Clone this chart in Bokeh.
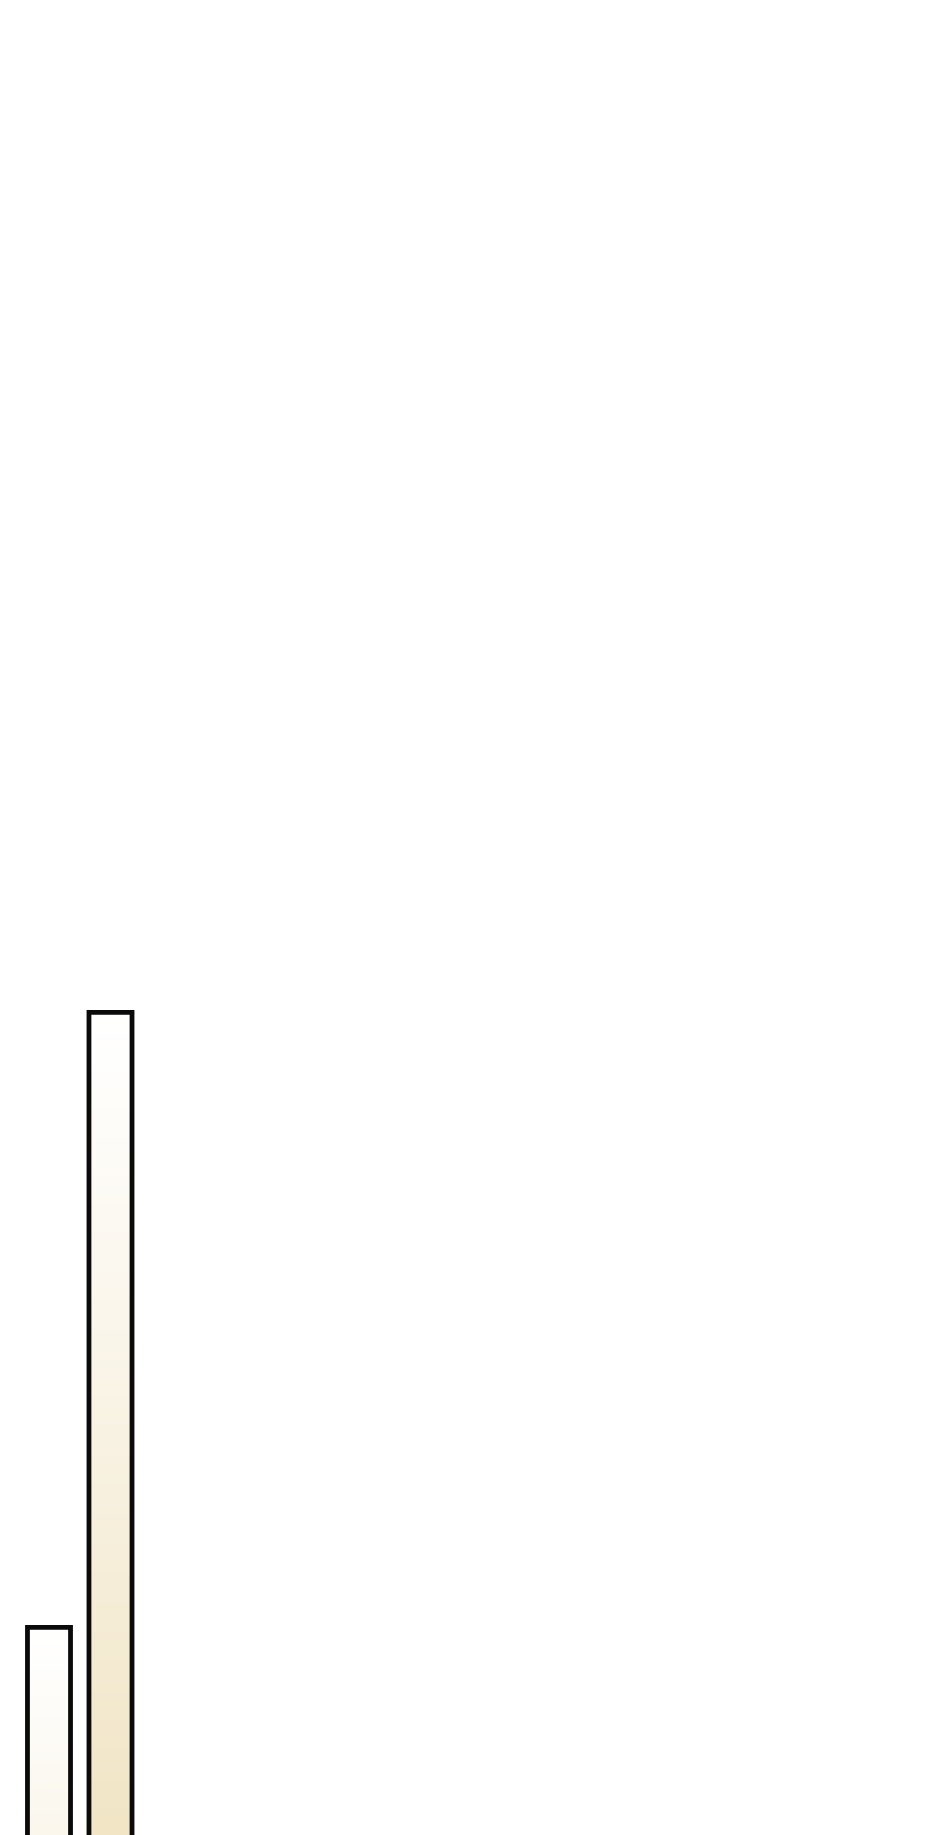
import numpy as np
from bokeh.plotting import figure
from bokeh.models import Range1d, ColumnDataSource
from bokeh.embed import file_html
from bokeh.resources import INLINE

# Data
categories = ["A", "B"]
values = [36.11, 50.0]
positions = [1, 2]

BAR_W = 0.7
N_SLICES = 300
top_rgb = np.array([255, 255, 255])
bottom_rgb = np.array([214, 178, 86])

p = figure(width=940, height=1835, output_backend="svg", toolbar_location=None,
           x_range=Range1d(0.2114, 15.496), y_range=Range1d(31.41, 72.85),
           min_border=0, min_border_left=0, min_border_right=0,
           min_border_top=0, min_border_bottom=0)
p.axis.visible = False
p.grid.visible = False
p.outline_line_color = None
p.background_fill_color = "white"
p.border_fill_color = "white"

# gradient slices
ls, rs, bs, ts, cs = [], [], [], [], []
for x, v in zip(positions, values):
    edges = np.linspace(v, 0, N_SLICES + 1)
    for i in range(N_SLICES):
        f = ((i + 0.5) / N_SLICES) ** 1.08
        c = top_rgb + (bottom_rgb - top_rgb) * f
        ls.append(x - BAR_W / 2)
        rs.append(x + BAR_W / 2)
        ts.append(edges[i])
        bs.append(edges[i + 1] - 0.02)
        cs.append("#%02x%02x%02x" % tuple(int(round(k)) for k in c))
p.quad(left=ls, right=rs, bottom=bs, top=ts, fill_color=cs, line_color=None)

# bar outlines (open at the baseline, which lies below the visible area)
xs = [[x - BAR_W / 2, x - BAR_W / 2, x + BAR_W / 2, x + BAR_W / 2] for x in positions]
ys = [[0, v, v, 0] for v in values]
src = ColumnDataSource(dict(xs=xs, ys=ys, cat=categories))
p.multi_line(xs="xs", ys="ys", source=src, line_color="#0a0a0a",
             line_width=4.8, line_join="miter")

open("out.html", "w").write(file_html(p, INLINE))
